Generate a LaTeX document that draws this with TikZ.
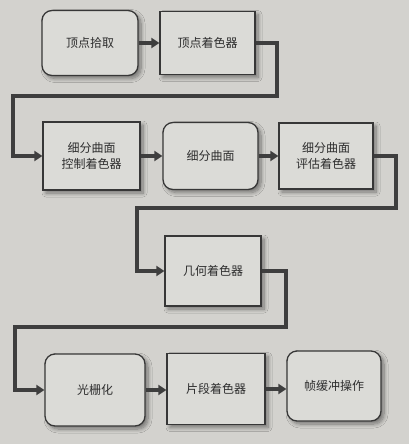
\documentclass[tikz,border=0pt]{standalone}
\usepackage{fontspec}
\setmainfont{Noto Sans CJK SC}
\usetikzlibrary{arrows.meta,shadows.blur}
\definecolor{bg}{RGB}{211,210,206}
\definecolor{boxfill}{RGB}{219,219,215}
\definecolor{edge}{RGB}{55,55,55}
\definecolor{conncol}{RGB}{62,62,62}
\definecolor{txt}{RGB}{45,45,45}
\tikzset{
  base/.style={draw=edge, line width=1.3pt, fill=boxfill, text=txt,
    font=\fontsize{12}{16}\selectfont, align=center, inner sep=0pt,
    blur shadow={shadow xshift=3pt, shadow yshift=-3pt, shadow blur steps=8, shadow opacity=45, shadow blur radius=4pt}},
  rbox/.style={base, rounded corners=10pt},
  sbox/.style={base},
  conn/.style={draw=conncol, line width=3.6pt, -{Triangle[length=8pt,width=10pt]}}
}
\begin{document}
\begin{tikzpicture}[x=1pt,y=-1pt]
\fill[bg] (0,0) rectangle (409,444);
\useasboundingbox (0,0) rectangle (409,444);
\node[rbox, minimum width=96pt, minimum height=65pt] (n1) at (90,43) {顶点拾取};
\node[sbox, minimum width=95pt, minimum height=63pt] (n2) at (207.5,43) {顶点着色器};
\node[sbox, minimum width=97pt, minimum height=68pt] (n3) at (91.5,156) {细分曲面\\控制着色器};
\node[rbox, minimum width=95pt, minimum height=67pt] (n4) at (210.5,156) {细分曲面};
\node[sbox, minimum width=94pt, minimum height=66pt] (n5) at (326,156) {细分曲面\\评估着色器};
\node[sbox, minimum width=96pt, minimum height=70pt] (n6) at (213,271) {几何着色器};
\node[rbox, minimum width=100pt, minimum height=72pt] (n7) at (95,390) {光栅化};
\node[sbox, minimum width=98pt, minimum height=71pt] (n8) at (216,389) {片段着色器};
\node[rbox, minimum width=94pt, minimum height=70pt] (n9) at (334,386) {帧缓冲操作};
\coordinate (a1) at (277,96);
\coordinate (a2) at (13,96);
\coordinate (b1) at (396,208);
\coordinate (b2) at (137,208);
\coordinate (c1) at (286,327);
\coordinate (c2) at (15,327);
\draw[conn] (n1) -- (n2);
\draw[conn] (n2.east) -| (a1) -- (a2) |- (n3.west);
\draw[conn] (n3) -- (n4);
\draw[conn] (n4) -- (n5);
\draw[conn] (n5.east) -| (b1) -- (b2) |- (n6.west);
\draw[conn] (n6.east) -| (c1) -- (c2) |- (n7.west);
\draw[conn] (n7.east) -- (n8.west |- n7.east);
\draw[conn] (n8.east) -- (n9.west |- n8.east);
\end{tikzpicture}
\end{document}
